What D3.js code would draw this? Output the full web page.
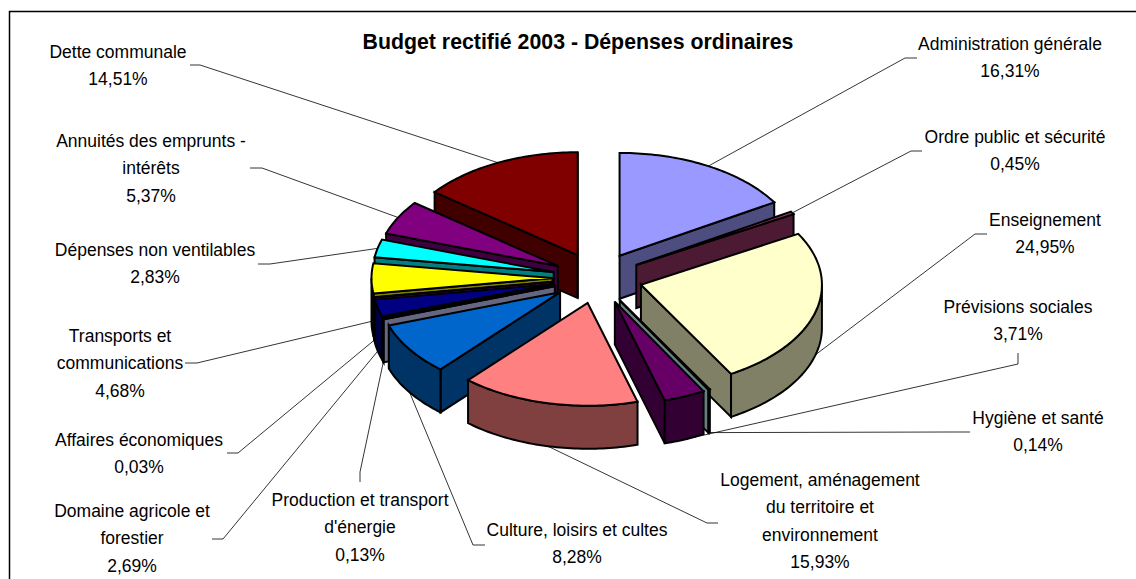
<!DOCTYPE html>
<html>
<head>
<meta charset="utf-8">
<script src="https://cdn.jsdelivr.net/npm/d3@7"></script>
<style>
html,body{margin:0;padding:0;background:#fff;overflow:hidden}
svg{display:block}
text{font-family:"Liberation Sans",Arial,sans-serif;fill:#000}
</style>
</head>
<body>
<div id="chart"></div>
<script>
const title = "Budget rectifié 2003 - Dépenses ordinaires";
const categories = [
  "Administration générale","Ordre public et sécurité","Enseignement","Hygiène et santé",
  "Prévisions sociales","Logement, aménagement du territoire et environnement",
  "Culture, loisirs et cultes","Production et transport d'énergie","Domaine agricole et forestier",
  "Affaires économiques","Transports et communications","Dépenses non ventilables",
  "Annuités des emprunts - intérêts","Dette communale"
];
const values = [16.31,0.45,24.95,0.14,3.71,15.93,8.28,0.13,2.69,0.03,4.68,2.83,5.37,14.51];
const valueLabels = ["16,31%","0,45%","24,95%","0,14%","3,71%","15,93%","8,28%","0,13%","2,69%","0,03%","4,68%","2,83%","5,37%","14,51%"];
const colors = ["#9999FF","#993366","#FFFFCC","#CCFFFF","#660066","#FF8080","#0066CC","#CCCCFF","#000080","#FF00FF","#FFFF00","#00FFFF","#800080","#800000"];
// label layout: wrapped name lines, text centre, first baseline, leader start and knee
const labelLines = [
  ["Administration générale"],["Ordre public et sécurité"],["Enseignement"],["Hygiène et santé"],
  ["Prévisions sociales"],["Logement, aménagement","du territoire et","environnement"],
  ["Culture, loisirs et cultes"],["Production et transport","d'énergie"],["Domaine agricole et","forestier"],
  ["Affaires économiques"],["Transports et","communications"],["Dépenses non ventilables"],
  ["Annuités des emprunts -","intérêts"],["Dette communale"]
];
const labelX = [1010,1015,1045,1038,1018,820,577,360,132,139,120,155,151,118];
const labelY = [50,143,226,424,313,486,536,506,517,446,342,256,147,58];
const leaderFrom = [[917,58],[922,151],[987,234],[970,432],[1018,353],[718,523],[485,545],[360,482],[212,539],[227,453],[185,363],[258,264],[250,168],[190,65]];
const leaderKnee = [[905,58],[911,151],[975,234],[950,432],[1018,364],[707,523],[473,545],[360,472],[223,539],[238,453],[197,363],[270,264],[262,168],[200,65]];

const W = 1136, H = 579;
const cx = 597.5, cy = 278, rx = 181, ratio = 0.568, ry = rx * ratio, depth = 43, explode = 45;
const lineGap = 27.3, fontSize = 17.5;

const svg = d3.select("#chart").append("svg").attr("width", W).attr("height", H);
svg.append("rect").attr("x",9.5).attr("y",11.5).attr("width",W+20).attr("height",H)
   .attr("fill","#fff").attr("stroke","#000").attr("stroke-width",1.5);

const pie = d3.pie().sort(null).value(d => d)(values);
const slices = pie.map((p,i) => {
  const mid = (p.startAngle + p.endAngle) / 2;
  return { i, a0:p.startAngle, a1:p.endAngle, mid,
    ox: cx + explode * Math.sin(mid),
    oy: cy - explode * ratio * Math.cos(mid) };
});
const pt = (s,a,dz=0) => [s.ox + rx*Math.sin(a), s.oy - ry*Math.cos(a) + dz];
const arcPts = (s,a0,a1,dz=0) => {
  const n = Math.max(2, Math.ceil((a1-a0)/0.02));
  return d3.range(n+1).map(k => pt(s, a0+(a1-a0)*k/n, dz));
};
const line = d3.line();
const closed = pts => line(pts) + "Z";

// leaders, under the pie
const lg = svg.append("g").attr("fill","none").attr("stroke","#000").attr("stroke-width",0.8);
slices.forEach(s => {
  const front = Math.cos(s.mid) < 0;
  const end = pt(s, s.mid, front ? depth : 0);
  lg.append("path").attr("d", line([leaderFrom[s.i], leaderKnee[s.i], end]));
});

// slices, back to front
const order = slices.slice().sort((a,b) => Math.cos(b.mid) - Math.cos(a.mid));
const pg = svg.append("g").attr("stroke","#000").attr("stroke-width",2).attr("stroke-linejoin","miter");
order.forEach(s => {
  const top = colors[s.i];
  const c = d3.rgb(top);
  const side = d3.rgb(c.r/2, c.g/2, c.b/2).formatHex();
  const g = pg.append("g");
  const apex = [s.ox, s.oy], apexB = [s.ox, s.oy+depth];
  const wall = (a) => {
    const e = pt(s,a), eB = pt(s,a,depth);
    g.append("path").attr("d", closed([apex,e,eB,apexB])).attr("fill",side);
  };
  if (Math.sin(s.a0) < 0) wall(s.a0);
  if (Math.sin(s.a1) > 0) wall(s.a1);
  const w0 = Math.max(s.a0, Math.PI/2), w1 = Math.min(s.a1, Math.PI*1.5);
  if (w1 > w0) {
    const up = arcPts(s,w0,w1), down = arcPts(s,w0,w1,depth).reverse();
    g.append("path").attr("d", closed(up.concat(down))).attr("fill",side);
  }
  g.append("path").attr("d", closed([apex].concat(arcPts(s,s.a0,s.a1)))).attr("fill",top);
});

// title + labels
svg.append("text").attr("x",578).attr("y",49).attr("text-anchor","middle")
   .attr("font-size",21.3).attr("font-weight","bold").text(title);
const tg = svg.append("g").attr("text-anchor","middle").attr("font-size",fontSize);
categories.forEach((c,i) => {
  const t = tg.append("text").attr("transform",`translate(${labelX[i]},${labelY[i]})`);
  labelLines[i].concat([valueLabels[i]]).forEach((l,k) => {
    t.append("tspan").attr("x",0).attr("y",k*lineGap).text(l);
  });
});
</script>
</body>
</html>
